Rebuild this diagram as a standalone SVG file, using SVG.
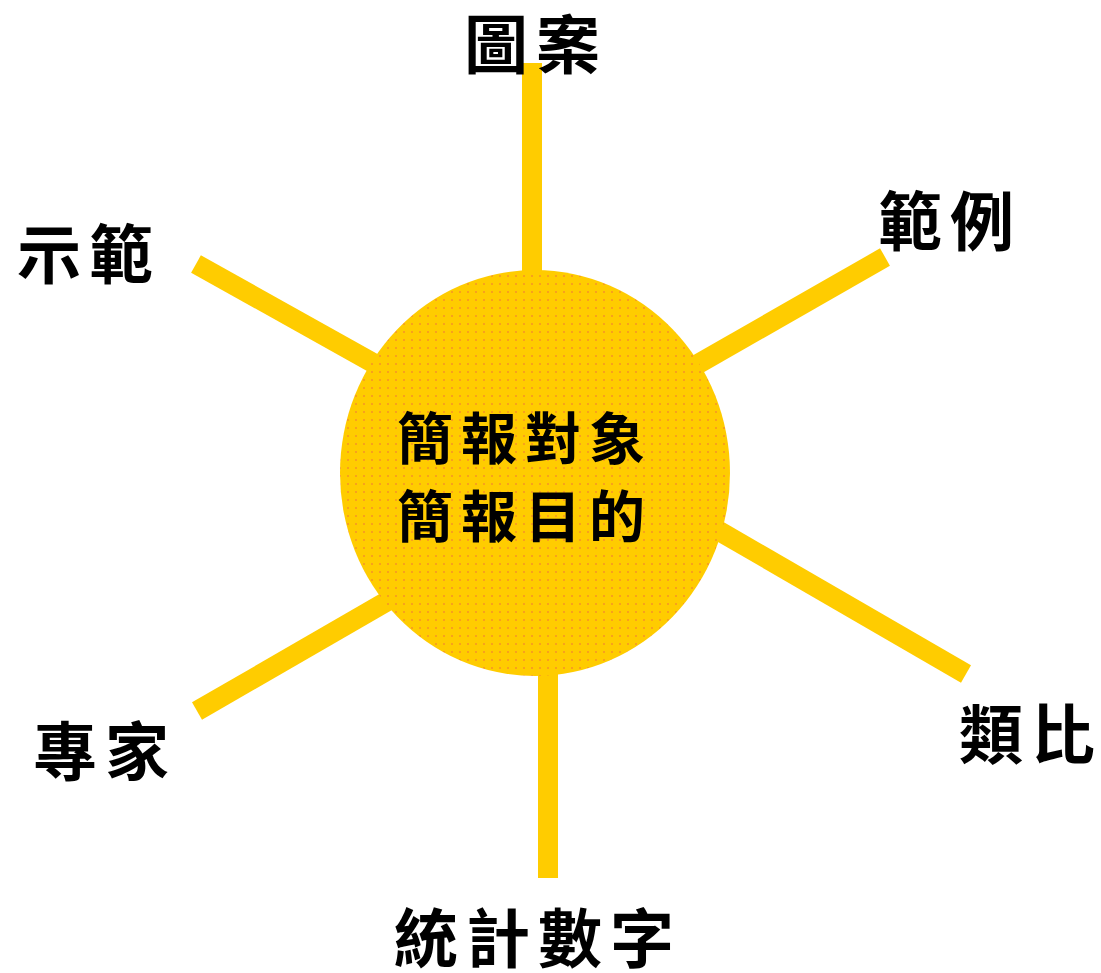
<svg xmlns="http://www.w3.org/2000/svg" width="1101" height="973" viewBox="0 0 1101 973">
<defs>
<pattern id="dots" x="0" y="0" width="8" height="8" patternUnits="userSpaceOnUse">
<rect width="8" height="8" fill="#FFCC00"/>
<rect x="3" y="3" width="2" height="2" fill="#F8A11C"/>
</pattern>
<style>
.ray{stroke:#FFCC00;stroke-width:20;fill:none}
.lbl{font-family:"Noto Sans CJK TC","Noto Sans CJK SC",sans-serif;font-weight:bold;font-size:64px;fill:#000;text-anchor:middle;letter-spacing:8px}
.ctr{font-family:"Noto Sans CJK TC","Noto Sans CJK SC",sans-serif;font-weight:bold;font-size:56px;fill:#000;text-anchor:middle;letter-spacing:8px}
</style>
</defs>
<rect width="1101" height="973" fill="#fff"/>
<g id="connectors">
<line class="ray" x1="532" y1="63" x2="532" y2="300"/>
<line class="ray" x1="548" y1="650" x2="548" y2="878"/>
<line class="ray" x1="196" y1="264" x2="400" y2="378"/>
<line class="ray" x1="885" y1="257" x2="670" y2="380"/>
<line class="ray" x1="966" y1="674" x2="700" y2="520"/>
<line class="ray" x1="197" y1="711" x2="410" y2="588"/>
</g>
<g id="center">
<ellipse cx="535" cy="473" rx="195" ry="203" fill="url(#dots)"/>
<text class="ctr" x="525" y="459">簡報對象</text>
<text class="ctr" x="525" y="537">簡報目的</text>
</g>
<g id="n-tuan"><text class="lbl" x="536" y="68">圖案</text></g>
<g id="n-fanli"><text class="lbl" x="950" y="245">範例</text></g>
<g id="n-shifan"><text class="lbl" x="89" y="278">示範</text></g>
<g id="n-zhuanjia"><text class="lbl" x="105" y="775">專家</text></g>
<g id="n-leibi"><text class="lbl" x="1031" y="758">類比</text></g>
<g id="n-tongji"><text class="lbl" x="538" y="962">統計數字</text></g>
</svg>
